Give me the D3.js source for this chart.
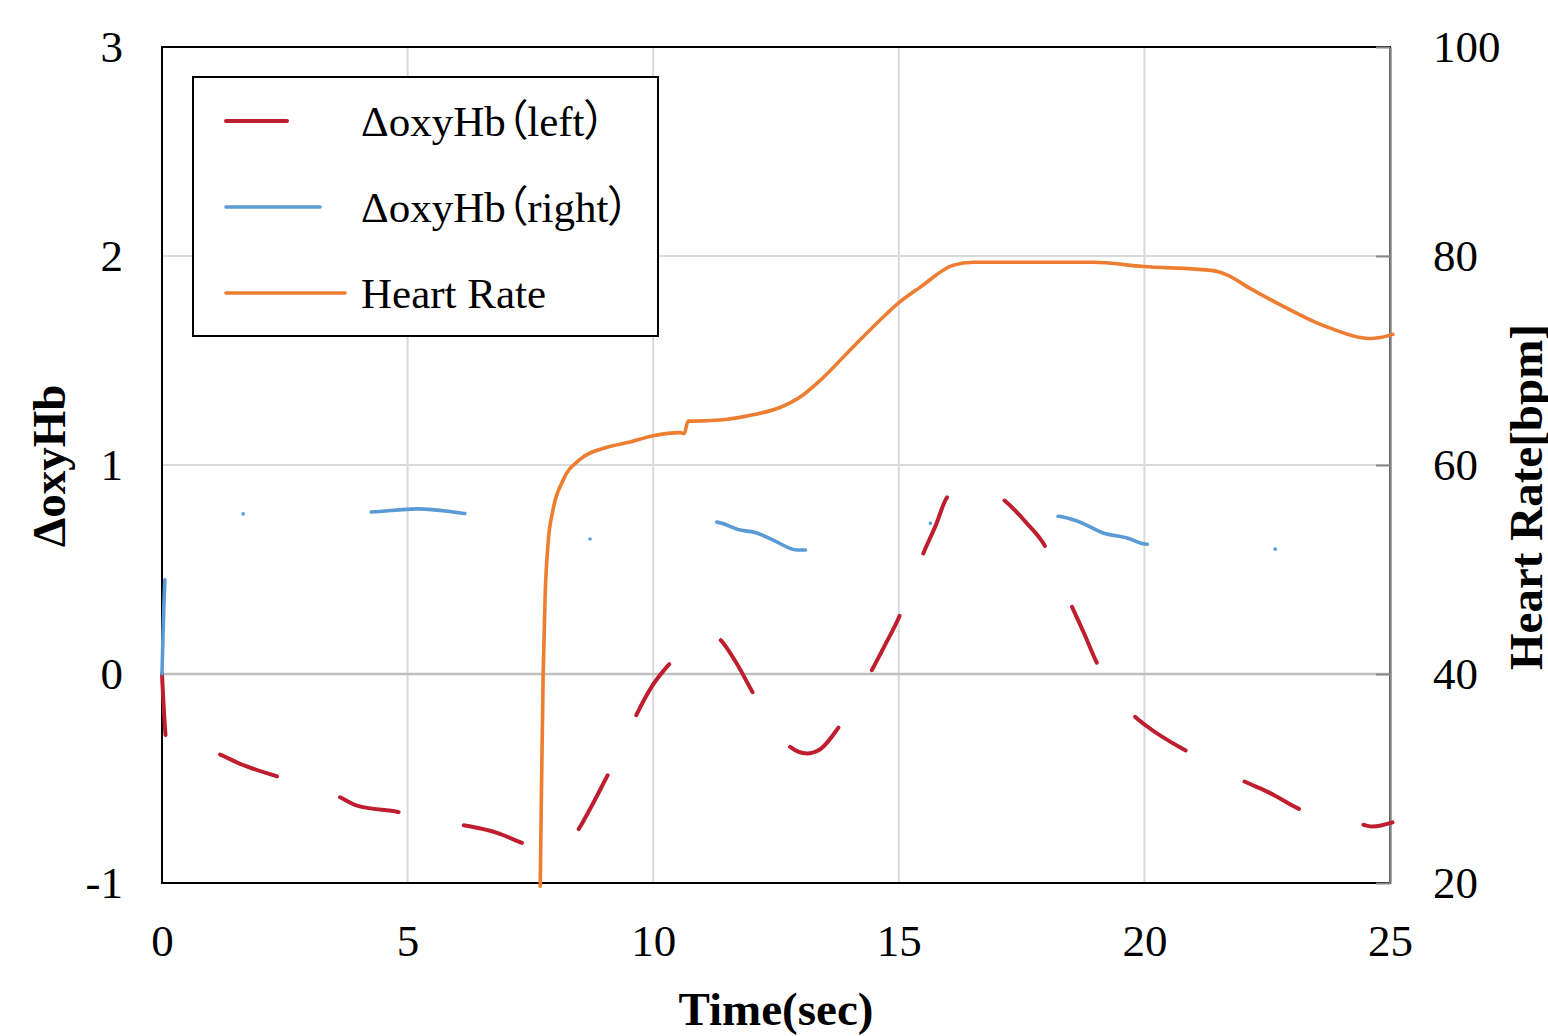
<!DOCTYPE html>
<html>
<head>
<meta charset="utf-8">
<script src="https://cdn.jsdelivr.net/npm/d3@7/dist/d3.min.js"></script>
<style>
  html, body { margin: 0; padding: 0; background: #fff; }
  svg { display: block; }
  .legend-text { font-feature-settings: "palt" 1; }
</style>
</head>
<body>
<svg id="chart" width="1548" height="1036"></svg>
<script>
// ---- data ----
const xTicks = [0, 5, 10, 15, 20, 25];
const yLeftTicks = [-1, 0, 1, 2, 3];
const yRightTicks = [20, 40, 60, 80, 100];

const leftTime = [0, 0.08, 0.12, 0.6, 1.12, 1.59, 2.34, 2.9, 3.54, 3.97, 4.8, 5.4, 6.07, 6.82, 7.35, 7.75, 8.1, 8.43, 8.75, 9.06, 9.35, 9.61, 10.0, 10.3, 10.7, 11.1, 11.34, 11.7, 12.03, 12.4, 12.74, 13.13, 13.4, 13.76, 14.1, 14.41, 14.7, 15.02, 15.25, 15.47, 15.75, 16.0, 16.55, 17.1, 17.61, 17.98, 18.25, 18.51, 18.78, 19.04, 19.4, 19.79, 20.05, 20.87, 21.45, 22.0, 22.56, 23.19, 23.8, 24.43, 24.65, 25.05];
const leftOxy = [0, -0.31, -0.355, -0.36, -0.38, -0.43, -0.49, -0.53, -0.58, -0.63, -0.66, -0.69, -0.72, -0.76, -0.81, -0.845, -0.83, -0.76, -0.63, -0.49, -0.36, -0.22, -0.05, 0.04, 0.13, 0.20, 0.17, 0.05, -0.09, -0.23, -0.34, -0.38, -0.36, -0.26, -0.13, 0.0, 0.13, 0.28, 0.42, 0.56, 0.71, 0.85, 0.91, 0.84, 0.72, 0.61, 0.47, 0.33, 0.19, 0.05, -0.08, -0.20, -0.25, -0.37, -0.44, -0.51, -0.57, -0.65, -0.69, -0.72, -0.73, -0.71];

const rightTime = [0, 0.06, 0.16, 0.6, 1.63, 3.0, 4.24, 5.2, 6.21, 7.4, 8.69, 10.0, 11.26, 11.77, 12.11, 12.44, 12.93, 13.13, 14.4, 15.66, 17.0, 18.14, 18.63, 19.16, 19.65, 20.01, 21.3, 22.6, 23.8, 25.0];
const rightOxy = [0, 0.46, 0.69, 0.75, 0.766, 0.77, 0.775, 0.79, 0.766, 0.71, 0.646, 0.69, 0.727, 0.689, 0.675, 0.641, 0.593, 0.593, 0.66, 0.722, 0.75, 0.756, 0.732, 0.675, 0.651, 0.622, 0.61, 0.598, 0.59, 0.58];

const hrTime = [7.70, 7.72, 7.76, 7.80, 7.86, 7.96, 8.16, 8.5, 9.06, 9.53, 10.0, 10.55, 10.63, 10.71, 10.81, 11.36, 12.03, 12.58, 13.05, 13.4, 14.07, 14.76, 15.02, 15.43, 16.1, 16.51, 17.5, 18.95, 19.97, 21.4, 21.68, 22.15, 22.82, 23.51, 23.84, 24.39, 24.59, 24.8, 25.06];
const hrValue = [19.7, 27, 40, 47.5, 52.5, 55.7, 58.5, 60.5, 61.7, 62.2, 62.8, 63.1, 63.0, 64.2, 64.2, 64.3, 64.8, 65.5, 66.7, 68.1, 71.3, 74.5, 75.6, 77.0, 79.1, 79.4, 79.4, 79.4, 79.0, 78.6, 78.2, 76.9, 75.2, 73.6, 73.0, 72.2, 72.1, 72.2, 72.5];

const seriesNames = ["\u0394oxyHb\uFF08left\uFF09", "\u0394oxyHb\uFF08right\uFF09", "Heart Rate"];
const seriesColors = ["#BE1E2D", "#5B9BD5", "#ED7D31"];

// ---- layout ----
const svg = d3.select("#chart");
const L = 162, R = 1390, T = 47, B = 883;
const x = d3.scaleLinear().domain([0, 25]).range([L, R]);
const y = d3.scaleLinear().domain([-1, 3]).range([B, T]);
const y2 = d3.scaleLinear().domain([20, 100]).range([B, T]);
const serif = "'Liberation Serif', 'Times New Roman', 'Noto Sans CJK JP', serif";

// gridlines
svg.append("g").selectAll("line").data([5, 10, 15, 20]).join("line")
  .attr("x1", d => x(d)).attr("x2", d => x(d)).attr("y1", T).attr("y2", B)
  .attr("stroke", "#d9d9d9").attr("stroke-width", 2);
svg.append("g").selectAll("line").data([1, 2]).join("line")
  .attr("x1", L).attr("x2", R).attr("y1", d => y(d)).attr("y2", d => y(d))
  .attr("stroke", "#d9d9d9").attr("stroke-width", 2);
svg.append("line").attr("x1", L).attr("x2", R).attr("y1", y(0)).attr("y2", y(0))
  .attr("stroke", "#bfbfbf").attr("stroke-width", 2.5);

// plot border
svg.append("rect").attr("x", L).attr("y", T).attr("width", R - L).attr("height", B - T)
  .attr("fill", "none").attr("stroke", "#000").attr("stroke-width", 2);

// right axis (grey, inner ticks)
const gR = svg.append("g").attr("transform", `translate(${R},0)`)
  .call(d3.axisRight(y2).tickValues(yRightTicks).tickSizeInner(-14).tickSizeOuter(0).tickPadding(43).tickFormat(String));
gR.select(".domain").attr("stroke", "#878787").attr("stroke-width", 2.5);
gR.selectAll(".tick line").attr("stroke", "#878787").attr("stroke-width", 2);
gR.selectAll("text").attr("font-family", serif).attr("font-size", 45).attr("fill", "#000");

// left axis
const gL = svg.append("g").attr("transform", `translate(${L},0)`)
  .call(d3.axisLeft(y).tickValues(yLeftTicks).tickSize(0).tickPadding(39).tickFormat(String));
gL.select(".domain").remove();
gL.selectAll("text").attr("font-family", serif).attr("font-size", 45).attr("fill", "#000");

// bottom axis
const gB = svg.append("g").attr("transform", `translate(0,${B})`)
  .call(d3.axisBottom(x).tickValues(xTicks).tickSize(0).tickPadding(41).tickFormat(String));
gB.select(".domain").remove();
gB.selectAll("text").attr("font-family", serif).attr("font-size", 45).attr("fill", "#000");

// axis titles
svg.append("text").attr("x", (L + R) / 2).attr("y", 1025).attr("text-anchor", "middle")
  .attr("font-family", serif).attr("font-weight", "bold").attr("font-size", 47).text("Time(sec)");
svg.append("text").attr("transform", "translate(65,466) rotate(-90)").attr("text-anchor", "middle")
  .attr("font-family", serif).attr("font-weight", "bold").attr("font-size", 47).text("\u0394oxyHb");
svg.append("text").attr("transform", "translate(1542,497) rotate(-90)").attr("text-anchor", "middle")
  .attr("font-family", serif).attr("font-weight", "bold").attr("font-size", 47).text("Heart Rate[bpm]");

// lines
const dashes = ["61,66.5", "94,128,0.01,128", null];
const widths = [4, 3.6, 3.6];
const lineL = d3.line().x(d => x(d[0])).y(d => y(d[1])).curve(d3.curveMonotoneX);
const lineH = d3.line().x(d => x(d[0])).y(d => y2(d[1])).curve(d3.curveMonotoneX);

const redData = d3.zip(leftTime, leftOxy);
const blueData = d3.zip(rightTime, rightOxy);
const hrData = d3.zip(hrTime, hrValue);

svg.append("path").datum(redData).attr("d", lineL).attr("fill", "none")
  .attr("stroke", seriesColors[0]).attr("stroke-width", widths[0])
  .attr("stroke-dasharray", dashes[0]).attr("stroke-linecap", "round").attr("stroke-linejoin", "round");
svg.append("path").datum(blueData).attr("d", lineL).attr("fill", "none")
  .attr("stroke", seriesColors[1]).attr("stroke-width", widths[1])
  .attr("stroke-dasharray", dashes[1]).attr("stroke-linecap", "round").attr("stroke-linejoin", "round");
svg.append("path").datum(hrData).attr("d", lineH).attr("fill", "none")
  .attr("stroke", seriesColors[2]).attr("stroke-width", widths[2])
  .attr("stroke-linecap", "round").attr("stroke-linejoin", "round");

// legend
const lg = svg.append("g");
lg.append("rect").attr("x", 193).attr("y", 77).attr("width", 465).attr("height", 259)
  .attr("fill", "#fff").attr("stroke", "#000").attr("stroke-width", 2);
const rows = [121, 207, 293];
seriesNames.forEach((name, i) => {
  lg.append("line").attr("x1", 226).attr("x2", 345).attr("y1", rows[i]).attr("y2", rows[i])
    .attr("stroke", seriesColors[i]).attr("stroke-width", widths[i])
    .attr("stroke-dasharray", dashes[i]).attr("stroke-linecap", "round");
  lg.append("text").attr("class", "legend-text").attr("x", 361).attr("y", rows[i] + 15)
    .attr("font-family", serif).attr("font-size", 43).text(name);
});
</script>
</body>
</html>
